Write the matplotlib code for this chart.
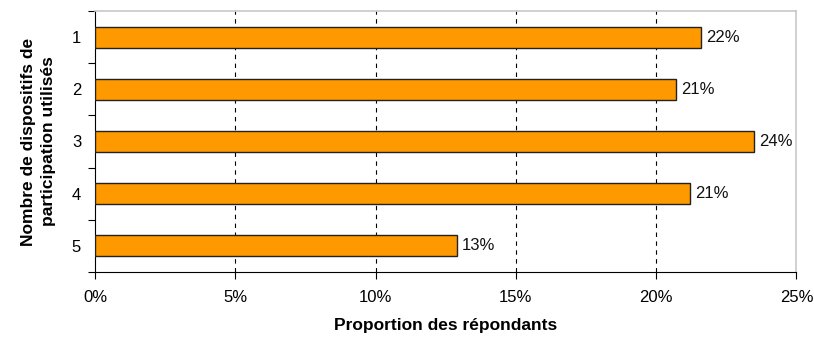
import numpy as np
from matplotlib import pyplot as plt

plt.rcParams['font.family'] = ['Liberation Sans', 'DejaVu Sans']

categories = ['1', '2', '3', '4', '5']
values = [21.6, 20.7, 23.5, 21.2, 12.9]
labels = ['22%', '21%', '24%', '21%', '13%']
x_ticks = [0, 5, 10, 15, 20, 25]

fig = plt.figure(figsize=(8.14, 3.39), dpi=100)
ax = fig.add_axes([0.1167, 0.1976, 0.8618, 0.77])

y = np.arange(len(categories))
ax.barh(y, values, height=0.4, color='#ff9900', edgecolor='#222222', linewidth=1, zorder=3)
for yi, v, lab in zip(y, values, labels):
    ax.text(v + 0.18, yi, lab, va='center', ha='left', fontsize=12, color='#111111')

ax.set_xlim(0, 25)
ax.set_ylim(len(categories) - 0.5, -0.5)
ax.set_xticks(x_ticks)
ax.set_xticklabels([f'{t}%' for t in x_ticks], fontsize=12)
ax.tick_params(axis='x', direction='out', length=5, pad=8, color='black')

# labels at centres, tick marks at the boundaries
ax.set_yticks(np.arange(-0.5, len(categories)), minor=False)
ax.set_yticklabels([])
ax.set_yticks(y, minor=True)
ax.set_yticklabels(categories, minor=True, fontsize=12)
ax.tick_params(axis='y', which='major', direction='out', length=5)
ax.tick_params(axis='y', which='minor', length=0, pad=10)

for gx in x_ticks[1:-1]:
    ax.axvline(gx, color='black', linestyle=(0, (4, 4)), linewidth=0.8, zorder=1)

for s in ['top', 'right']:
    ax.spines[s].set_color('#c8c8c8')
    ax.spines[s].set_linewidth(1.2)
for s in ['left', 'bottom']:
    ax.spines[s].set_color('black')

ax.set_xlabel('Proportion des répondants', fontsize=12.5, fontweight='bold', labelpad=9)
ax.set_ylabel('Nombre de dispositifs de\nparticipation utilisés', fontsize=12.5,
              fontweight='bold', labelpad=11, linespacing=1.45)

fig.savefig('out.png', dpi=100)
